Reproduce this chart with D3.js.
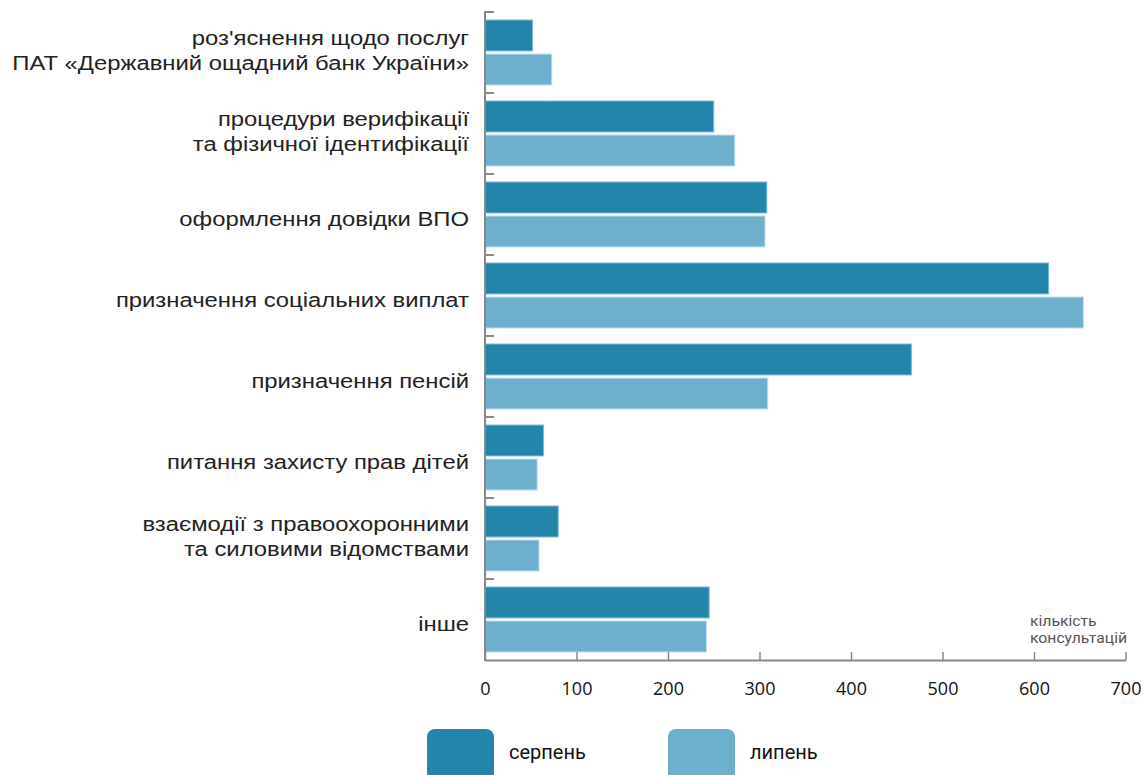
<!DOCTYPE html>
<html><head><meta charset="utf-8">
<script src="https://cdn.jsdelivr.net/npm/d3@7"></script>
<style>body{margin:0;background:#fff;}svg{display:block;}</style>
</head><body>
<svg id="chart" width="1143" height="775"></svg>
<script>
const categories = [
  ["роз'яснення щодо послуг", "ПАТ «Державний ощадний банк України»"],
  ["процедури верифікації", "та фізичної ідентифікації"],
  ["оформлення довідки ВПО"],
  ["призначення соціальних виплат"],
  ["призначення пенсій"],
  ["питання захисту прав дітей"],
  ["взаємодії з правоохоронними", "та силовими відомствами"],
  ["інше"]
];
const seriesNames = ["серпень", "липень"];
const serpen = [52, 250, 308, 616, 466, 64, 80, 245];
const lypen  = [73, 273, 306, 654, 309, 57, 59, 242];
const xTicks = [0, 100, 200, 300, 400, 500, 600, 700];
const colors = ["#2285a9", "#6eafce"];
const axisTitle = ["кількість", "консультацій"];

const svg = d3.select("#chart");
const x = d3.scaleLinear().domain([0, 700]).range([485, 1125.5]);
const y = d3.scaleBand().domain(d3.range(categories.length)).range([12, 660]).padding(0);
const sub = d3.scaleBand().domain([0, 1]).range([8, y.bandwidth() - 8]).paddingInner(0.09);

const data = categories.map((c, i) => ({i, vals: [serpen[i], lypen[i]]}));

const g = svg.append("g");
g.selectAll("g.cat").data(data).join("g")
  .attr("transform", d => `translate(0,${y(d.i)})`)
  .selectAll("rect").data(d => d.vals.map((v, k) => ({v, k}))).join("rect")
  .attr("x", x(0))
  .attr("y", d => sub(d.k))
  .attr("width", d => x(d.v) - x(0))
  .attr("height", sub.bandwidth())
  .attr("fill", d => colors[d.k])
  .attr("stroke", d => d.k === 0 ? "#7fbcd4" : "#bfdeec")
  .attr("stroke-width", 1);

// left axis
const axisColor = "#888";
g.append("line").attr("x1", 485).attr("x2", 485).attr("y1", 11).attr("y2", 661)
  .attr("stroke", axisColor).attr("stroke-width", 2);
g.selectAll("line.ytick").data(d3.range(categories.length)).join("line")
  .attr("class", "ytick")
  .attr("x1", 485).attr("x2", 494)
  .attr("y1", d => y(d)).attr("y2", d => y(d))
  .attr("stroke", axisColor).attr("stroke-width", 2);

// bottom axis
const xAxis = d3.axisBottom(x).tickValues(xTicks).tickSizeInner(-8).tickSizeOuter(0).tickPadding(31);
const xg = svg.append("g").attr("transform", "translate(0,660)").call(xAxis);
xg.select(".domain").attr("stroke", axisColor).attr("stroke-width", 2);
xg.selectAll(".tick line").attr("stroke", axisColor).attr("stroke-width", 1.5);
xg.selectAll(".tick text").attr("font-family", "'Open Sans', sans-serif").attr("font-size", 18)
  .attr("fill", "#111").attr("dy", "0.2em");

// category labels
const lab = svg.append("g").attr("font-family", "'Liberation Sans', Arial, sans-serif")
  .attr("font-size", 21).attr("fill", "#222").attr("text-anchor", "end");
categories.forEach((lines, i) => {
  const c = y(i) + y.bandwidth() / 2;
  const ys = lines.length === 1 ? [c + 11] : [c - 8, c + 17];
  lines.forEach((ln, j) => {
    lab.append("text")
      .attr("transform", `translate(469,${ys[j]}) scale(1.135,1)`)
      .text(ln);
  });
});

// axis title
const at = svg.append("g").attr("font-family", "Roboto, sans-serif").attr("font-size", 15).attr("fill", "#555");
at.selectAll("text").data(axisTitle).join("text")
  .attr("transform", (d, i) => `translate(1030,${626 + i * 17}) scale(1.05,1)`).text(d => d);

// legend
const legX = [427, 668];
const leg = svg.append("g");
seriesNames.forEach((n, k) => {
  leg.append("rect").attr("x", legX[k]).attr("y", 729).attr("width", 67).attr("height", 52)
    .attr("rx", 8).attr("fill", colors[k]);
  leg.append("text").attr("x", legX[k] + 82).attr("y", 759)
    .attr("font-family", "Roboto, sans-serif").attr("font-size", 20).attr("fill", "#111").text(n);
});
</script>
</body></html>
